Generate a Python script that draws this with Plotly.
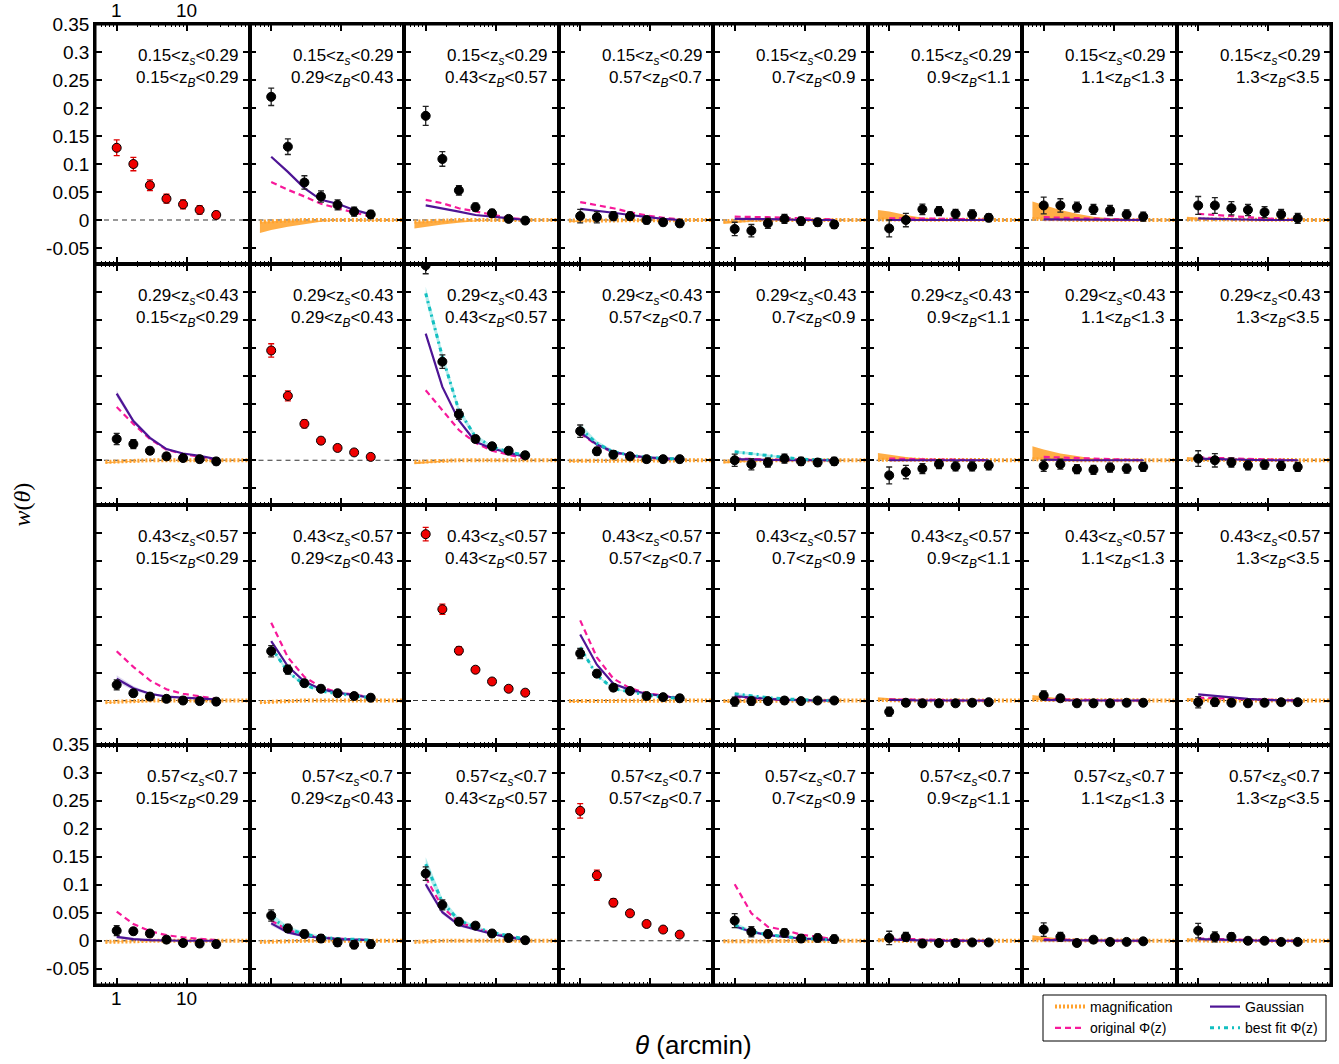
import math
import plotly.graph_objects as go
from plotly.subplots import make_subplots

# ---------------- data ----------------
THETA = [1.0, 1.73, 2.98, 5.14, 8.87, 15.3, 26.4]
MAG_THETA = [0.69, 1.0, 1.73, 2.98, 5.14, 8.87, 15.3, 26.4, 45.5, 76.0]
ZS_EDGES = ["0.15", "0.29", "0.43", "0.57", "0.7"]
ZB_EDGES = ["0.15", "0.29", "0.43", "0.57", "0.7", "0.9", "1.1", "1.3", "3.5"]
Y_TICKS = [-0.05, 0.0, 0.05, 0.1, 0.15, 0.2, 0.25, 0.3, 0.35]
Y_TICK_TEXT = ["-0.05", "0", "0.05", "0.1", "0.15", "0.2", "0.25", "0.3", "0.35"]
X_TICKS = [1, 10]
X_TICK_TEXT = ["1", "10"]
X_MINOR = [0.5, 0.6, 0.7, 0.8, 0.9, 2, 3, 4, 5, 6, 7, 8, 9, 20, 30, 40, 50, 60, 70]

# observed w(theta): rows = z_s bins, cols = z_B bins
W_OBS = [
    [[0.129, 0.100, 0.062, 0.038, 0.028, 0.018, 0.009],
     [0.220, 0.131, 0.067, 0.042, 0.027, 0.015, 0.010],
     [0.186, 0.109, 0.053, 0.023, 0.012, 0.002, -0.001],
     [0.007, 0.005, 0.007, 0.007, 0.000, -0.004, -0.006],
     [-0.016, -0.019, -0.006, 0.002, -0.002, -0.004, -0.008],
     [-0.015, 0.000, 0.019, 0.016, 0.011, 0.010, 0.004],
     [0.026, 0.026, 0.023, 0.019, 0.017, 0.010, 0.006],
     [0.026, 0.026, 0.021, 0.018, 0.014, 0.010, 0.003]],
    [[0.038, 0.029, 0.017, 0.007, 0.004, 0.002, -0.002],
     [0.196, 0.115, 0.065, 0.035, 0.022, 0.014, 0.006],
     [0.348, 0.176, 0.082, 0.038, 0.025, 0.017, 0.009],
     [0.052, 0.016, 0.010, 0.007, 0.002, 0.002, 0.002],
     [0.000, -0.007, -0.004, 0.003, -0.002, -0.004, -0.002],
     [-0.027, -0.021, -0.015, -0.007, -0.011, -0.011, -0.009],
     [-0.010, -0.007, -0.016, -0.017, -0.013, -0.015, -0.012],
     [0.003, 0.000, -0.004, -0.009, -0.008, -0.010, -0.012]],
    [[0.028, 0.013, 0.007, 0.003, 0.000, -0.001, -0.002],
     [0.088, 0.055, 0.031, 0.021, 0.013, 0.008, 0.005],
     [0.297, 0.163, 0.089, 0.055, 0.034, 0.021, 0.014],
     [0.084, 0.048, 0.023, 0.017, 0.008, 0.006, 0.004],
     [-0.002, -0.001, -0.001, 0.000, -0.001, 0.000, 0.000],
     [-0.020, -0.004, -0.005, -0.005, -0.005, -0.004, -0.003],
     [0.009, 0.004, -0.005, -0.005, -0.005, -0.004, -0.004],
     [-0.003, -0.003, -0.004, -0.005, -0.004, -0.003, -0.003]],
    [[0.018, 0.017, 0.013, 0.002, -0.004, -0.005, -0.006],
     [0.045, 0.022, 0.012, 0.004, -0.003, -0.007, -0.006],
     [0.120, 0.064, 0.034, 0.027, 0.013, 0.005, 0.001],
     [0.232, 0.117, 0.068, 0.049, 0.030, 0.020, 0.011],
     [0.036, 0.016, 0.012, 0.014, 0.004, 0.005, 0.003],
     [0.005, 0.007, -0.005, -0.004, -0.004, -0.003, -0.003],
     [0.020, 0.007, -0.004, 0.002, -0.002, -0.002, -0.001],
     [0.018, 0.007, 0.007, 0.000, 0.000, -0.002, -0.002]],
]

W_ERR = [
    [[0.014, 0.012, 0.0095, 0.008, 0.008, 0.0075, 0.0065],
     [0.0155, 0.014, 0.012, 0.010, 0.009, 0.008, 0.007],
     [0.017, 0.013, 0.0085, 0.007, 0.007, 0.006, 0.006],
     [0.012, 0.010, 0.008, 0.007, 0.007, 0.006, 0.006],
     [0.012, 0.011, 0.009, 0.008, 0.007, 0.007, 0.007],
     [0.015, 0.012, 0.0095, 0.008, 0.008, 0.008, 0.007],
     [0.015, 0.012, 0.009, 0.009, 0.009, 0.008, 0.008],
     [0.016, 0.014, 0.012, 0.010, 0.010, 0.009, 0.009]],
    [[0.010, 0.008, 0.006, 0.006, 0.006, 0.006, 0.006],
     [0.012, 0.009, 0.007, 0.006, 0.006, 0.005, 0.005],
     [0.015, 0.012, 0.009, 0.006, 0.006, 0.006, 0.006],
     [0.011, 0.007, 0.007, 0.006, 0.006, 0.006, 0.006],
     [0.011, 0.010, 0.008, 0.008, 0.007, 0.007, 0.007],
     [0.015, 0.012, 0.009, 0.008, 0.008, 0.008, 0.008],
     [0.010, 0.009, 0.008, 0.008, 0.008, 0.008, 0.008],
     [0.014, 0.012, 0.008, 0.008, 0.008, 0.008, 0.008]],
    [[0.009, 0.006, 0.006, 0.006, 0.006, 0.006, 0.006],
     [0.010, 0.008, 0.006, 0.006, 0.006, 0.006, 0.006],
     [0.012, 0.009, 0.007, 0.005, 0.005, 0.005, 0.005],
     [0.009, 0.006, 0.006, 0.006, 0.006, 0.006, 0.006],
     [0.008, 0.007, 0.006, 0.006, 0.006, 0.005, 0.005],
     [0.008, 0.006, 0.006, 0.006, 0.005, 0.005, 0.005],
     [0.008, 0.006, 0.006, 0.006, 0.005, 0.005, 0.005],
     [0.010, 0.007, 0.006, 0.006, 0.005, 0.005, 0.005]],
    [[0.009, 0.006, 0.006, 0.006, 0.006, 0.006, 0.006],
     [0.010, 0.007, 0.007, 0.007, 0.007, 0.007, 0.007],
     [0.012, 0.009, 0.006, 0.006, 0.006, 0.006, 0.006],
     [0.013, 0.009, 0.007, 0.005, 0.005, 0.005, 0.005],
     [0.0125, 0.009, 0.007, 0.007, 0.007, 0.007, 0.007],
     [0.012, 0.008, 0.006, 0.006, 0.005, 0.005, 0.005],
     [0.012, 0.008, 0.006, 0.006, 0.005, 0.005, 0.005],
     [0.013, 0.009, 0.007, 0.006, 0.005, 0.005, 0.005]],
]

# Gaussian model (purple)
W_GAUSS = [
    [None,
     [0.113, 0.086, 0.057, 0.036, 0.029, 0.018, 0.010],
     [0.026, 0.021, 0.015, 0.009, 0.006, 0.003, 0.000],
     [0.020, 0.017, 0.013, 0.009, 0.005, 0.002, 0.000],
     [0.002, 0.002, 0.001, 0.001, 0.000, 0.000, 0.000],
     [0.000, 0.000, 0.000, 0.000, 0.000, 0.000, 0.000],
     [0.001, 0.001, 0.000, 0.000, 0.000, 0.000, 0.000],
     [0.003, 0.002, 0.001, 0.001, 0.000, 0.000, 0.000]],
    [[0.119, 0.070, 0.040, 0.020, 0.012, 0.008, 0.002],
     None,
     [0.226, 0.131, 0.071, 0.033, 0.021, 0.013, 0.006],
     [0.050, 0.028, 0.015, 0.009, 0.005, 0.003, 0.002],
     [0.002, 0.001, 0.001, 0.000, 0.000, 0.000, 0.000],
     [0.000, 0.000, 0.000, 0.000, 0.000, 0.000, 0.000],
     [0.001, 0.000, 0.000, 0.000, 0.000, 0.000, 0.000],
     [0.003, 0.002, 0.001, 0.001, 0.000, 0.000, 0.000]],
    [[0.039, 0.022, 0.012, 0.007, 0.005, 0.003, 0.002],
     [0.106, 0.061, 0.034, 0.020, 0.014, 0.010, 0.005],
     None,
     [0.118, 0.064, 0.030, 0.019, 0.012, 0.008, 0.004],
     [0.008, 0.005, 0.003, 0.001, 0.000, 0.000, 0.000],
     [0.001, 0.000, 0.000, 0.000, 0.000, 0.000, 0.000],
     [0.001, 0.000, 0.000, 0.000, 0.000, 0.000, 0.000],
     [0.011, 0.008, 0.005, 0.003, 0.001, 0.001, 0.000]],
    [[0.007, 0.003, 0.001, 0.000, 0.000, 0.000, 0.000],
     [0.031, 0.015, 0.008, 0.005, 0.003, 0.002, 0.001],
     [0.101, 0.051, 0.028, 0.020, 0.012, 0.006, 0.002],
     None,
     [0.026, 0.016, 0.010, 0.007, 0.004, 0.003, 0.001],
     [0.002, 0.001, 0.000, 0.000, 0.000, 0.000, 0.000],
     [0.001, 0.001, 0.000, 0.000, 0.000, 0.000, 0.000],
     [0.003, 0.002, 0.001, 0.000, 0.000, 0.000, 0.000]],
]

# half-width of the faint band around the Gaussian model
GAUSS_HALF = [
    [None, None, None, None, None, None, None, None],
    [[0.006, 0.004, 0.003, 0.002, 0.001, 0.001, 0.001], None, None, None, None, None, None, None],
    [[0.006, 0.004, 0.002, 0.001, 0.001, 0.000, 0.000], None, None, None, None, None, None, None],
    [[0.003, 0.002, 0.001, 0.001, 0.000, 0.000, 0.000],
     [0.004, 0.003, 0.002, 0.001, 0.001, 0.001, 0.000],
     [0.006, 0.004, 0.003, 0.002, 0.001, 0.001, 0.000],
     None, None, None, None, None],
]

# original Phi(z) model (pink dashed)
W_ORIG = [
    [None,
     [0.068, 0.054, 0.042, 0.029, 0.021, 0.013, 0.006],
     [0.036, 0.030, 0.021, 0.015, 0.009, 0.004, 0.001],
     [0.032, 0.027, 0.021, 0.014, 0.008, 0.004, 0.001],
     [0.006, 0.006, 0.005, 0.004, 0.003, 0.002, 0.001],
     [0.003, 0.003, 0.003, 0.002, 0.002, 0.001, 0.000],
     [0.005, 0.004, 0.003, 0.002, 0.001, 0.001, 0.000],
     [0.011, 0.009, 0.006, 0.004, 0.002, 0.001, 0.000]],
    [[0.095, 0.065, 0.038, 0.019, 0.011, 0.006, 0.001],
     None,
     [0.125, 0.089, 0.054, 0.031, 0.017, 0.010, 0.003],
     [0.048, 0.027, 0.014, 0.008, 0.004, 0.002, 0.001],
     [0.003, 0.002, 0.002, 0.001, 0.001, 0.000, 0.000],
     [0.003, 0.002, 0.002, 0.001, 0.001, 0.000, 0.000],
     [0.006, 0.005, 0.004, 0.003, 0.002, 0.001, 0.000],
     [0.005, 0.004, 0.003, 0.002, 0.001, 0.001, 0.000]],
    [[0.088, 0.060, 0.036, 0.020, 0.012, 0.008, 0.003],
     [0.139, 0.077, 0.042, 0.024, 0.015, 0.010, 0.006],
     None,
     [0.143, 0.077, 0.039, 0.022, 0.013, 0.009, 0.005],
     [0.006, 0.004, 0.002, 0.001, 0.001, 0.000, 0.000],
     [0.002, 0.002, 0.001, 0.001, 0.000, 0.000, 0.000],
     [0.003, 0.002, 0.001, 0.001, 0.000, 0.000, 0.000],
     [0.005, 0.004, 0.003, 0.002, 0.001, 0.000, 0.000]],
    [[0.052, 0.030, 0.017, 0.010, 0.006, 0.003, 0.001],
     [0.036, 0.019, 0.011, 0.006, 0.004, 0.002, 0.001],
     [0.113, 0.060, 0.033, 0.023, 0.013, 0.007, 0.002],
     None,
     [0.101, 0.049, 0.025, 0.019, 0.011, 0.007, 0.003],
     [0.004, 0.003, 0.002, 0.001, 0.000, 0.000, 0.000],
     [0.003, 0.002, 0.001, 0.001, 0.000, 0.000, 0.000],
     [0.004, 0.003, 0.002, 0.001, 0.000, 0.000, 0.000]],
]

# best-fit Phi(z) model (cyan dash-dot) and its band half-width
W_BEST = [
    [None] * 8,
    [None, None,
     [0.298, 0.185, 0.089, 0.042, 0.024, 0.015, 0.009],
     [0.057, 0.030, 0.015, 0.009, 0.005, 0.003, 0.002],
     [0.015, 0.012, 0.008, 0.005, 0.002, 0.001, 0.000],
     None, None, None],
    [None,
     [0.095, 0.051, 0.028, 0.017, 0.012, 0.008, 0.005],
     None,
     [0.095, 0.045, 0.021, 0.015, 0.010, 0.006, 0.004],
     [0.012, 0.008, 0.005, 0.003, 0.001, 0.000, 0.000],
     None, None, None],
    [None,
     [0.042, 0.021, 0.012, 0.006, 0.004, 0.002, 0.001],
     [0.137, 0.069, 0.036, 0.024, 0.015, 0.009, 0.003],
     None,
     [0.028, 0.016, 0.011, 0.008, 0.004, 0.003, 0.001],
     None, None, None],
]
BEST_HALF = [
    [None] * 8,
    [None, None,
     [0.012, 0.009, 0.006, 0.004, 0.003, 0.002, 0.002],
     [0.008, 0.005, 0.003, 0.002, 0.001, 0.001, 0.001],
     [0.003, 0.002, 0.002, 0.001, 0.001, 0.000, 0.000],
     None, None, None],
    [None,
     [0.004, 0.003, 0.002, 0.001, 0.001, 0.001, 0.001],
     None,
     [0.003, 0.002, 0.002, 0.001, 0.001, 0.001, 0.000],
     [0.002, 0.002, 0.001, 0.001, 0.000, 0.000, 0.000],
     None, None, None],
    [None,
     [0.008, 0.005, 0.004, 0.003, 0.002, 0.002, 0.001],
     [0.012, 0.007, 0.005, 0.003, 0.002, 0.001, 0.001],
     None,
     [0.005, 0.003, 0.002, 0.002, 0.001, 0.001, 0.000],
     None, None, None],
]

# magnification: central line and outer edge of its band (on MAG_THETA)
MAG_LINE = [
    [None,
     [-0.003, -0.002, -0.001, 0.0, 0.0, 0.0, 0.0, 0.0, 0.0, 0.0],
     [-0.003, -0.002, -0.001, 0.0, 0.0, 0.0, 0.0, 0.0, 0.0, 0.0],
     [-0.001, -0.001, 0.0, 0.0, 0.0, 0.0, 0.0, 0.0, 0.0, 0.0],
     [-0.002, -0.001, 0.0, 0.0, 0.0, 0.0, 0.0, 0.0, 0.0, 0.0],
     [0.001, 0.001, 0.0, 0.0, 0.0, 0.0, 0.0, 0.0, 0.0, 0.0],
     [0.002, 0.001, 0.001, 0.0, 0.0, 0.0, 0.0, 0.0, 0.0, 0.0],
     [0.001, 0.001, 0.0, 0.0, 0.0, 0.0, 0.0, 0.0, 0.0, 0.0]],
    [[-0.003, -0.002, -0.001, 0.0, 0.0, 0.0, 0.0, 0.0, 0.0, 0.0],
     None,
     [-0.003, -0.002, -0.001, 0.0, 0.0, 0.0, 0.0, 0.0, 0.0, 0.0],
     [-0.001, -0.001, 0.0, 0.0, 0.0, 0.0, 0.0, 0.0, 0.0, 0.0],
     [-0.002, -0.001, 0.0, 0.0, 0.0, 0.0, 0.0, 0.0, 0.0, 0.0],
     [0.001, 0.001, 0.0, 0.0, 0.0, 0.0, 0.0, 0.0, 0.0, 0.0],
     [0.002, 0.001, 0.001, 0.0, 0.0, 0.0, 0.0, 0.0, 0.0, 0.0],
     [0.001, 0.001, 0.0, 0.0, 0.0, 0.0, 0.0, 0.0, 0.0, 0.0]],
    [[-0.003, -0.002, -0.001, 0.0, 0.0, 0.0, 0.0, 0.0, 0.0, 0.0],
     [-0.003, -0.002, -0.001, 0.0, 0.0, 0.0, 0.0, 0.0, 0.0, 0.0],
     None,
     [-0.001, -0.001, 0.0, 0.0, 0.0, 0.0, 0.0, 0.0, 0.0, 0.0],
     [-0.001, -0.001, 0.0, 0.0, 0.0, 0.0, 0.0, 0.0, 0.0, 0.0],
     [0.001, 0.0, 0.0, 0.0, 0.0, 0.0, 0.0, 0.0, 0.0, 0.0],
     [0.001, 0.001, 0.0, 0.0, 0.0, 0.0, 0.0, 0.0, 0.0, 0.0],
     [0.001, 0.0, 0.0, 0.0, 0.0, 0.0, 0.0, 0.0, 0.0, 0.0]],
    [[-0.002, -0.001, -0.001, 0.0, 0.0, 0.0, 0.0, 0.0, 0.0, 0.0],
     [-0.002, -0.001, -0.001, 0.0, 0.0, 0.0, 0.0, 0.0, 0.0, 0.0],
     [-0.002, -0.001, 0.0, 0.0, 0.0, 0.0, 0.0, 0.0, 0.0, 0.0],
     None,
     [-0.001, -0.001, 0.0, 0.0, 0.0, 0.0, 0.0, 0.0, 0.0, 0.0],
     [0.001, 0.0, 0.0, 0.0, 0.0, 0.0, 0.0, 0.0, 0.0, 0.0],
     [0.001, 0.001, 0.0, 0.0, 0.0, 0.0, 0.0, 0.0, 0.0, 0.0],
     [0.001, 0.0, 0.0, 0.0, 0.0, 0.0, 0.0, 0.0, 0.0, 0.0]],
]
MAG_EDGE = [
    [None,
     [-0.023, -0.018, -0.012, -0.007, -0.003, -0.001, 0.0, 0.0, 0.0, 0.0],
     [-0.015, -0.012, -0.008, -0.005, -0.002, -0.001, 0.0, 0.0, 0.0, 0.0],
     [-0.004, -0.003, -0.002, -0.001, 0.0, 0.0, 0.0, 0.0, 0.0, 0.0],
     [-0.007, -0.005, -0.003, -0.002, -0.001, 0.0, 0.0, 0.0, 0.0, 0.0],
     [0.018, 0.015, 0.009, 0.004, 0.002, 0.001, 0.0, 0.0, 0.0, 0.0],
     [0.033, 0.027, 0.018, 0.011, 0.006, 0.003, 0.001, 0.0, 0.0, 0.0],
     [0.006, 0.004, 0.002, 0.001, 0.0, 0.0, 0.0, 0.0, 0.0, 0.0]],
    [[-0.006, -0.004, -0.002, -0.001, 0.0, 0.0, 0.0, 0.0, 0.0, 0.0],
     None,
     [-0.007, -0.005, -0.003, -0.001, 0.0, 0.0, 0.0, 0.0, 0.0, 0.0],
     [-0.003, -0.002, -0.001, 0.0, 0.0, 0.0, 0.0, 0.0, 0.0, 0.0],
     [-0.006, -0.004, -0.002, -0.001, 0.0, 0.0, 0.0, 0.0, 0.0, 0.0],
     [0.013, 0.010, 0.006, 0.003, 0.001, 0.0, 0.0, 0.0, 0.0, 0.0],
     [0.025, 0.019, 0.012, 0.007, 0.003, 0.001, 0.0, 0.0, 0.0, 0.0],
     [0.006, 0.004, 0.002, 0.001, 0.0, 0.0, 0.0, 0.0, 0.0, 0.0]],
    [[-0.005, -0.003, -0.002, -0.001, 0.0, 0.0, 0.0, 0.0, 0.0, 0.0],
     [-0.004, -0.003, -0.002, -0.001, 0.0, 0.0, 0.0, 0.0, 0.0, 0.0],
     None,
     [-0.003, -0.002, -0.001, 0.0, 0.0, 0.0, 0.0, 0.0, 0.0, 0.0],
     [-0.003, -0.002, -0.001, 0.0, 0.0, 0.0, 0.0, 0.0, 0.0, 0.0],
     [0.006, 0.004, 0.002, 0.001, 0.0, 0.0, 0.0, 0.0, 0.0, 0.0],
     [0.010, 0.007, 0.004, 0.002, 0.001, 0.0, 0.0, 0.0, 0.0, 0.0],
     [0.004, 0.003, 0.001, 0.0, 0.0, 0.0, 0.0, 0.0, 0.0, 0.0]],
    [[-0.003, -0.002, -0.001, 0.0, 0.0, 0.0, 0.0, 0.0, 0.0, 0.0],
     [-0.003, -0.002, -0.001, 0.0, 0.0, 0.0, 0.0, 0.0, 0.0, 0.0],
     [-0.003, -0.002, -0.001, 0.0, 0.0, 0.0, 0.0, 0.0, 0.0, 0.0],
     None,
     [-0.002, -0.001, 0.0, 0.0, 0.0, 0.0, 0.0, 0.0, 0.0, 0.0],
     [0.004, 0.003, 0.001, 0.0, 0.0, 0.0, 0.0, 0.0, 0.0, 0.0],
     [0.010, 0.007, 0.004, 0.002, 0.001, 0.0, 0.0, 0.0, 0.0, 0.0],
     [0.004, 0.003, 0.001, 0.0, 0.0, 0.0, 0.0, 0.0, 0.0, 0.0]],
]

# ---------------- styles ----------------
FONT = "Liberation Sans, Arial, sans-serif"
ORANGE = "#FFA22E"
ORANGE_FILL = "rgba(255,165,50,0.9)"
PINK = "#F7199A"
PURPLE = "#4E1595"
PURPLE_FILL = "rgba(120,90,190,0.25)"
CYAN = "#12BFC0"
CYAN_FILL = "rgba(90,215,215,0.45)"

W_FIG, H_FIG = 1339, 1064
ML, MR, MT, MB = 95, 8, 24, 79
PW = W_FIG - ML - MR          # plot-area width  (1236)
PH = H_FIG - MT - MB          # plot-area height (961)
PANEL_W = PW / 8
PANEL_H = PH / 4

NR, NC = 4, 8
fig = make_subplots(rows=NR, cols=NC, horizontal_spacing=0, vertical_spacing=0)

shown = set()


def legend_flag(key):
    if key in shown:
        return False
    shown.add(key)
    return True


for r in range(NR):
    for c in range(NC):
        row, col = r + 1, c + 1
        diag = (r == c)
        if MAG_LINE[r][c] is not None:
            line = MAG_LINE[r][c]
            edge = MAG_EDGE[r][c]
            fig.add_trace(go.Scatter(
                x=MAG_THETA + MAG_THETA[::-1], y=edge + line[::-1],
                fill="toself", fillcolor=ORANGE_FILL, line=dict(width=0),
                mode="lines", showlegend=False, hoverinfo="skip"), row=row, col=col)
            fig.add_trace(go.Scatter(
                x=MAG_THETA, y=line, mode="lines",
                line=dict(color=ORANGE, width=4, dash="2px,2px"),
                name="magnification", legend="legend",
                showlegend=legend_flag("mag")), row=row, col=col)
        if W_BEST[r][c] is not None and BEST_HALF[r][c] is not None:
            b = W_BEST[r][c]
            h = BEST_HALF[r][c]
            up = [v + e for v, e in zip(b, h)]
            lo = [v - e for v, e in zip(b, h)]
            fig.add_trace(go.Scatter(
                x=THETA + THETA[::-1], y=up + lo[::-1], fill="toself",
                fillcolor=CYAN_FILL, line=dict(width=0), mode="lines",
                showlegend=False, hoverinfo="skip"), row=row, col=col)
        if W_GAUSS[r][c] is not None and GAUSS_HALF[r][c] is not None:
            g = W_GAUSS[r][c]
            h = GAUSS_HALF[r][c]
            up = [v + e for v, e in zip(g, h)]
            lo = [v - e for v, e in zip(g, h)]
            fig.add_trace(go.Scatter(
                x=THETA + THETA[::-1], y=up + lo[::-1], fill="toself",
                fillcolor=PURPLE_FILL, line=dict(width=0), mode="lines",
                showlegend=False, hoverinfo="skip"), row=row, col=col)
        if W_ORIG[r][c] is not None:
            fig.add_trace(go.Scatter(
                x=THETA, y=W_ORIG[r][c], mode="lines",
                line=dict(color=PINK, width=2.2, dash="6px,4px"),
                name="original \u03a6(z)", legend="legend",
                showlegend=legend_flag("orig")), row=row, col=col)
        if W_GAUSS[r][c] is not None:
            fig.add_trace(go.Scatter(
                x=THETA, y=W_GAUSS[r][c], mode="lines",
                line=dict(color=PURPLE, width=2.2),
                name="Gaussian", legend="legend2",
                showlegend=legend_flag("gauss")), row=row, col=col)
        if W_BEST[r][c] is not None:
            fig.add_trace(go.Scatter(
                x=THETA, y=W_BEST[r][c], mode="lines",
                line=dict(color=CYAN, width=3, dash="4px,4px,2px,4px"),
                name="best fit \u03a6(z)", legend="legend2",
                showlegend=legend_flag("best")), row=row, col=col)
        pcol = "#F00000" if diag else "#000000"
        ecol = "#E00000" if diag else "#222222"
        fig.add_trace(go.Scatter(
            x=THETA, y=W_OBS[r][c], mode="markers",
            marker=dict(size=9, color=pcol, line=dict(color="#000000", width=1)),
            error_y=dict(type="data", array=W_ERR[r][c], color=ecol,
                         thickness=1.3, width=3),
            showlegend=False), row=row, col=col)

# ---------------- axes ----------------
n = 0
for r in range(NR):
    for c in range(NC):
        n += 1
        row, col = r + 1, c + 1
        fig.update_xaxes(
            row=row, col=col, type="log", range=[-0.31, 1.897],
            showgrid=False, zeroline=False,
            showline=True, linewidth=1.6, linecolor="black", mirror="ticks",
            ticks="inside", ticklen=7, tickwidth=2, tickcolor="black",
            tickmode="array", tickvals=X_TICKS, showticklabels=False,
            minor=dict(ticks="inside", ticklen=3, tickwidth=1, tickcolor="black",
                       tickmode="array", tickvals=X_MINOR))
        fig.update_yaxes(
            row=row, col=col, range=[-0.079, 0.35], showgrid=False, zeroline=False,
            showline=True, linewidth=1.6, linecolor="black", mirror="ticks",
            ticks="inside", ticklen=7, tickwidth=2, tickcolor="black",
            tickmode="array", tickvals=Y_TICKS, ticktext=Y_TICK_TEXT,
            showticklabels=(c == 0 and r in (0, NR - 1)),
            tickfont=dict(family=FONT, size=19, color="black"))

        sfx = "" if n == 1 else str(n)
        fig.add_shape(type="line", xref=f"x{sfx} domain", yref=f"y{sfx}",
                      x0=0.0, x1=1.0, y0=0, y1=0, layer="below",
                      line=dict(color="#333333", width=1.2, dash="5px,4px"))
        t1 = f"{ZS_EDGES[r]}&lt;z<sub><i>s</i></sub>&lt;{ZS_EDGES[r + 1]}"
        t2 = f"{ZB_EDGES[c]}&lt;z<sub><i>B</i></sub>&lt;{ZB_EDGES[c + 1]}"
        for txt, yy in ((t1, 1 - 33 / PANEL_H), (t2, 1 - 55 / PANEL_H)):
            fig.add_annotation(text=txt, xref=f"x{sfx} domain", yref=f"y{sfx} domain",
                               x=1 - 9.5 / PANEL_W, y=yy, xanchor="right", yanchor="middle",
                               showarrow=False,
                               font=dict(family=FONT, size=17, color="black"))

# x tick labels (1, 10) above the first panel and below the bottom-left panel
for xv, xt in zip(X_TICKS, X_TICK_TEXT):
    fig.add_annotation(text=xt, xref="x", yref="paper", x=math.log10(xv),
                       y=1 + 13 / PH, showarrow=False, xanchor="center", yanchor="middle",
                       font=dict(family=FONT, size=19, color="black"))
    fig.add_annotation(text=xt, xref="x25", yref="paper", x=math.log10(xv),
                       y=-13 / PH, showarrow=False, xanchor="center", yanchor="middle",
                       font=dict(family=FONT, size=19, color="black"))

# outer frame
fig.add_shape(type="rect", xref="paper", yref="paper", x0=0, x1=1, y0=0, y1=1,
              line=dict(color="black", width=3), fillcolor="rgba(0,0,0,0)")

# axis titles
fig.add_annotation(text="<i>w</i>(<i>\u03b8</i>)", xref="paper", yref="paper",
                   x=-74 / PW, y=0.5, textangle=-90, showarrow=False,
                   xanchor="center", yanchor="middle",
                   font=dict(family="Liberation Serif, Times New Roman, serif", size=24, color="black"))
fig.add_annotation(text="<i>\u03b8</i> (arcmin)", xref="paper", yref="paper",
                   x=598 / PW, y=-60 / PH, showarrow=False,
                   xanchor="center", yanchor="middle",
                   font=dict(family=FONT, size=26, color="black"))

# legend frame
fig.add_shape(type="rect", xref="paper", yref="paper",
              x0=948 / PW, x1=1231 / PW, y0=-56 / PH, y1=-10 / PH,
              line=dict(color="black", width=1), fillcolor="rgba(0,0,0,0)")

legend_common = dict(bgcolor="rgba(0,0,0,0)", borderwidth=0, yanchor="top",
                     xanchor="left", orientation="v", tracegroupgap=0,
                     font=dict(family=FONT, size=14, color="black"), itemwidth=30)

fig.update_layout(
    width=W_FIG, height=H_FIG,
    margin=dict(l=ML, r=MR, t=MT, b=MB, autoexpand=False),
    paper_bgcolor="white", plot_bgcolor="white",
    font=dict(family=FONT, color="black"),
    legend=dict(x=955 / PW, y=-6 / PH, **legend_common),
    legend2=dict(x=1110 / PW, y=-6 / PH, **legend_common),
)

fig.write_html("out.html", config={"displayModeBar": False},
               post_script="document.body.style.margin='0px';document.body.style.overflow='hidden';")
